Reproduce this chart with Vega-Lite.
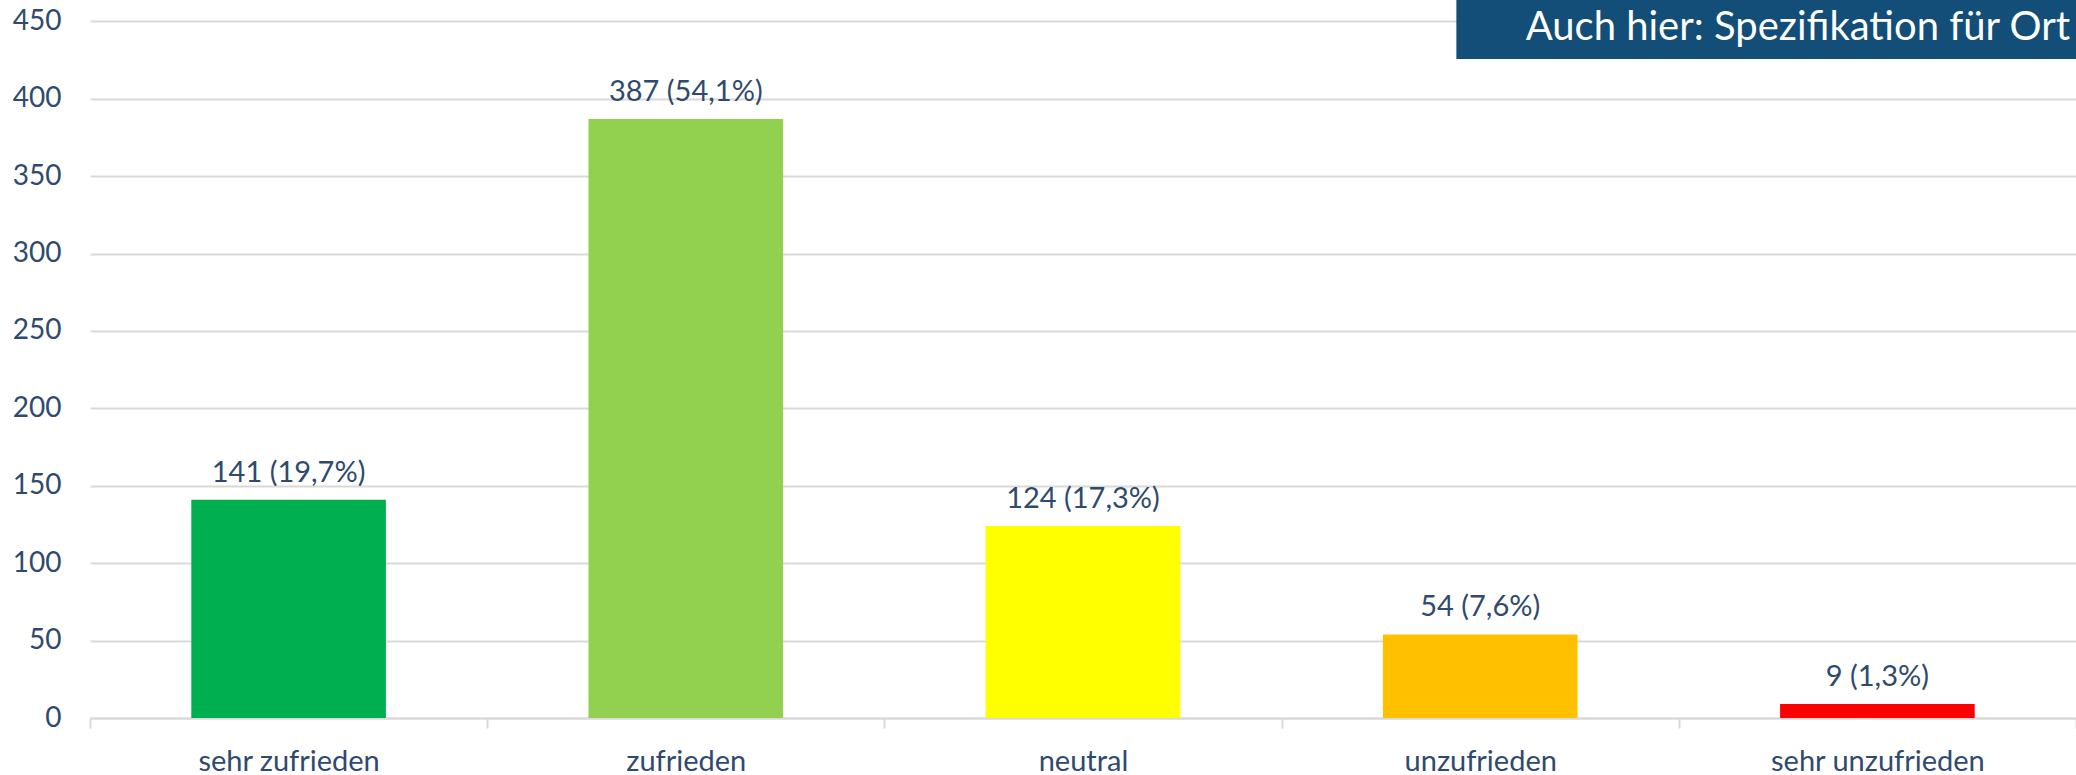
{
  "$schema": "https://vega.github.io/schema/vega-lite/v6.json",
  "width": 1986,
  "height": 718,
  "autosize": {"type": "none"},
  "padding": {"left": 90, "top": 0, "right": 0, "bottom": 57},
  "config": {"view": {"stroke": null}, "font": "Lato"},
  "resolve": {"scale": {"x": "independent"}},
  "layer": [
    {
      "data": {
        "values": [
          {"cat": "sehr zufrieden", "n": 141, "label": "141 (19,7%)"},
          {"cat": "zufrieden", "n": 387, "label": "387 (54,1%)"},
          {"cat": "neutral", "n": 124, "label": "124 (17,3%)"},
          {"cat": "unzufrieden", "n": 54, "label": "54 (7,6%)"},
          {"cat": "sehr unzufrieden", "n": 9, "label": "9 (1,3%)"}
        ]
      },
      "encoding": {
        "x": {
          "field": "cat", "type": "nominal", "sort": null,
          "scale": {"paddingInner": 0, "paddingOuter": 0},
          "axis": {
            "title": null, "labelAngle": 0, "tickBand": "extent",
            "domainColor": "#d9d9d9", "domainWidth": 2,
            "tickColor": "#d9d9d9", "tickWidth": 2, "tickSize": 10,
            "labelFontSize": 29, "labelColor": "#2f4a6e", "labelFont": "Lato",
            "labelPadding": 19, "labelLimit": 0
          }
        },
        "y": {
          "field": "n", "type": "quantitative",
          "scale": {"domain": [0, 463.8], "nice": false},
          "axis": {
            "title": null, "values": [0, 50, 100, 150, 200, 250, 300, 350, 400, 450],
            "domain": false, "ticks": false,
            "gridColor": "#d9d9d9", "gridWidth": 2,
            "labelPadding": 29, "labelFontSize": 28, "labelColor": "#2f4a6e", "labelFont": "Lato"
          }
        }
      },
      "layer": [
        {
          "mark": {"type": "bar", "width": {"band": 0.49}},
          "encoding": {
            "color": {
              "field": "cat", "type": "nominal", "legend": null,
              "scale": {
                "domain": ["sehr zufrieden", "zufrieden", "neutral", "unzufrieden", "sehr unzufrieden"],
                "range": ["#00b050", "#92d050", "#ffff00", "#ffc000", "#ff0000"]
              }
            }
          }
        },
        {
          "mark": {"type": "text", "baseline": "alphabetic", "dy": -18, "fontSize": 29, "color": "#2f4a6e", "font": "Lato"},
          "encoding": {"text": {"field": "label"}}
        }
      ]
    },
    {
      "data": {"values": [{"note": "Auch hier: Spezifikation für Ort"}]},
      "layer": [
        {
          "mark": {"type": "rect", "color": "#124e77"},
          "encoding": {
            "x": {"datum": 0.688, "type": "quantitative", "scale": {"domain": [0, 1], "nice": false}, "axis": null},
            "x2": {"datum": 1.01},
            "y": {"datum": 425.7, "type": "quantitative"},
            "y2": {"datum": 463.8}
          }
        },
        {
          "mark": {"type": "text", "align": "right", "baseline": "alphabetic", "fontSize": 40, "color": "white", "font": "Lato"},
          "encoding": {
            "x": {"datum": 0.997, "type": "quantitative", "scale": {"domain": [0, 1], "nice": false}, "axis": null},
            "y": {"datum": 438.0, "type": "quantitative"},
            "text": {"field": "note"}
          }
        }
      ]
    }
  ]
}
